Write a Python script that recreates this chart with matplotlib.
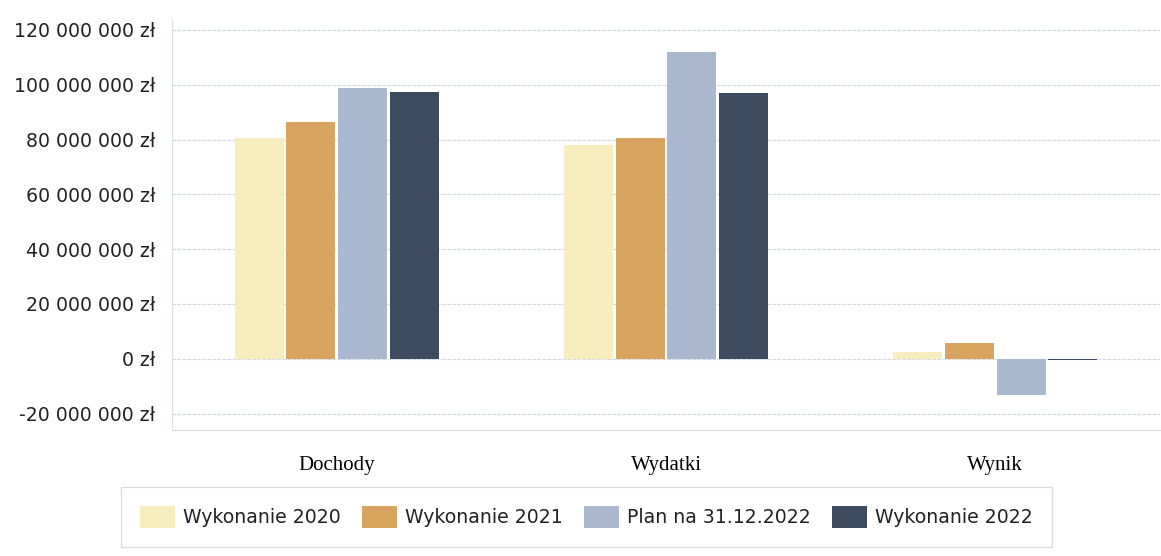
import matplotlib
matplotlib.use("Agg")
import matplotlib.pyplot as plt
import numpy as np
from matplotlib.ticker import FuncFormatter

categories = ["Dochody", "Wydatki", "Wynik"]
series_names = ["Wykonanie 2020", "Wykonanie 2021", "Plan na 31.12.2022", "Wykonanie 2022"]
wyk_2020 = [80.4e6, 78.1e6, 2.3e6]
wyk_2021 = [86.5e6, 80.7e6, 5.8e6]
plan_2022 = [98.9e6, 112.0e6, -13.1e6]
wyk_2022 = [97.3e6, 96.9e6, -0.6e6]
y_ticks = [-20e6, 0, 20e6, 40e6, 60e6, 80e6, 100e6, 120e6]

colors = ["#F7EDBE", "#D8A560", "#AAB8D0", "#3D4B60"]
series = [wyk_2020, wyk_2021, plan_2022, wyk_2022]

fig = plt.figure(figsize=(11.61, 5.56), dpi=100)
ax = fig.add_axes([172/1161, (556-430)/556, (1160-172)/1161, 411/556])

x = np.arange(len(categories))
step = 0.157
width = 0.149
for i, (vals, col, name) in enumerate(zip(series, colors, series_names)):
    ax.bar(x + (i - 1.5) * step, vals, width=width, color=col, label=name, zorder=3)

ax.set_xlim(-0.5, 2.5)
ax.set_ylim(-26e6, 124e6)
ax.set_yticks(y_ticks)

def fmt(v, pos):
    s = f"{int(round(v)):,}".replace(",", " ")
    return s + " zł"

ax.yaxis.set_major_formatter(FuncFormatter(fmt))
ax.set_xticks(x)
ax.set_xticklabels(categories, family="Liberation Serif", fontsize=15)
ax.tick_params(axis="x", length=0, pad=19)
ax.tick_params(axis="y", length=0, pad=12, labelsize=13.6)
for lab in ax.get_yticklabels():
    lab.set_family("DejaVu Sans")
    lab.set_color("#222222")

ax.grid(axis="y", color="#D5D9E0", linewidth=0.9, linestyle=(0, (3, 1)), zorder=0)
for s in ["top", "right"]:
    ax.spines[s].set_visible(False)
ax.spines["left"].set_color("#DDE1E8")
ax.spines["bottom"].set_color("#D5D9E0")
ax.spines["bottom"].set_linestyle((0, (3, 1)))

leg = fig.legend(loc="center", bbox_to_anchor=(0.505, 0.070), ncol=4,
                 fontsize=13.6, frameon=True, fancybox=False,
                 handlelength=1.85, handleheight=1.4, handletextpad=0.45,
                 columnspacing=1.1, borderpad=1.0, borderaxespad=0)
leg.get_frame().set_edgecolor("#D0D4DA")
leg.get_frame().set_linewidth(0.9)
for t in leg.get_texts():
    t.set_color("#222222")

fig.savefig("out.png", dpi=100)
